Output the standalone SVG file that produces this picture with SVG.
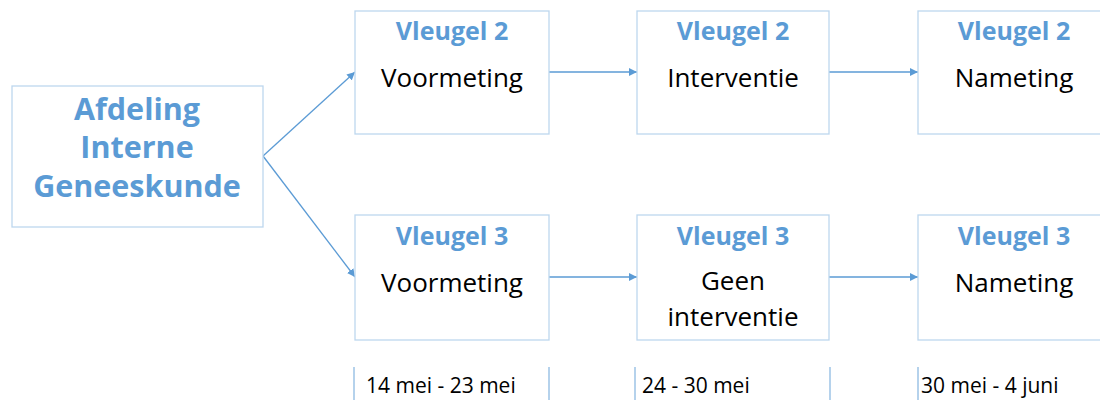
<svg xmlns="http://www.w3.org/2000/svg" width="1100" height="400" viewBox="0 0 1100 400">
  <style>
    .box { fill: #ffffff; stroke: #bdd7ee; stroke-width: 1.3; }
    .wing { font-family: "Open Sans", "Noto Sans", sans-serif; font-weight: bold; font-size: 25px; fill: #5b9bd5; text-anchor: middle; }
    .phase { font-family: "Open Sans", "Noto Sans", sans-serif; font-size: 26px; fill: #000000; text-anchor: middle; }
    .ward { font-family: "Open Sans", "Noto Sans", sans-serif; font-weight: bold; font-size: 30.5px; fill: #5b9bd5; text-anchor: middle; }
    .date { font-family: "Open Sans", "Noto Sans", sans-serif; font-size: 21px; fill: #000000; }
    .link { stroke: #5b9bd5; stroke-width: 1.3; fill: none; marker-end: url(#arrow); }
    .tick { stroke: #9dc3e6; stroke-width: 1.5; }
  </style>
  <defs>
    <marker id="arrow" viewBox="0 0 10 10" refX="10" refY="5" markerWidth="8" markerHeight="8" markerUnits="userSpaceOnUse" orient="auto">
      <path d="M0,0 L10,5 L0,10 z" fill="#5b9bd5"/>
    </marker>
  </defs>
  <rect width="1100" height="400" fill="#ffffff"/>

  <g id="connectors">
    <line class="link" x1="263" y1="156" x2="355" y2="72"/>
    <line class="link" x1="263" y1="156" x2="355" y2="277"/>
    <line class="link" x1="549" y1="72" x2="637" y2="72"/>
    <line class="link" x1="829" y1="72" x2="918" y2="72"/>
    <line class="link" x1="549" y1="277" x2="637" y2="277"/>
    <line class="link" x1="829" y1="277" x2="918" y2="277"/>
  </g>

  <g id="ward">
    <rect class="box" x="12" y="86" width="251" height="141"/>
    <text class="ward"><tspan x="137" y="120">Afdeling</tspan><tspan x="137" y="158">Interne</tspan><tspan x="137" y="197">Geneeskunde</tspan></text>
  </g>

  <g id="w2-pre">
    <rect class="box" x="355" y="11" width="194" height="123"/>
    <text class="wing" x="452" y="40">Vleugel 2</text>
    <text class="phase" x="452" y="87">Voormeting</text>
  </g>
  <g id="w2-int">
    <rect class="box" x="637" y="11" width="192" height="123"/>
    <text class="wing" x="733" y="40">Vleugel 2</text>
    <text class="phase" x="733" y="87">Interventie</text>
  </g>
  <g id="w2-post">
    <rect class="box" x="918" y="11" width="194" height="123"/>
    <text class="wing" x="1014" y="40">Vleugel 2</text>
    <text class="phase" x="1014" y="87">Nameting</text>
  </g>

  <g id="w3-pre">
    <rect class="box" x="355" y="215" width="194" height="125"/>
    <text class="wing" x="452" y="245">Vleugel 3</text>
    <text class="phase" x="452" y="292">Voormeting</text>
  </g>
  <g id="w3-none">
    <rect class="box" x="637" y="215" width="192" height="125"/>
    <text class="wing" x="733" y="245">Vleugel 3</text>
    <text class="phase" x="733" y="290">Geen</text>
    <text class="phase" x="733" y="326">interventie</text>
  </g>
  <g id="w3-post">
    <rect class="box" x="918" y="215" width="194" height="125"/>
    <text class="wing" x="1014" y="245">Vleugel 3</text>
    <text class="phase" x="1014" y="292">Nameting</text>
  </g>

  <g id="timeline">
    <line class="tick" x1="354" y1="367" x2="354" y2="400"/>
    <line class="tick" x1="549" y1="367" x2="549" y2="400"/>
    <line class="tick" x1="635" y1="367" x2="635" y2="400"/>
    <line class="tick" x1="830" y1="367" x2="830" y2="400"/>
    <line class="tick" x1="918" y1="367" x2="918" y2="400"/>
    <text class="date" x="366" y="393">14 mei - 23 mei</text>
    <text class="date" x="642" y="393">24 - 30 mei</text>
    <text class="date" x="921" y="393">30 mei - 4 juni</text>
  </g>
</svg>
